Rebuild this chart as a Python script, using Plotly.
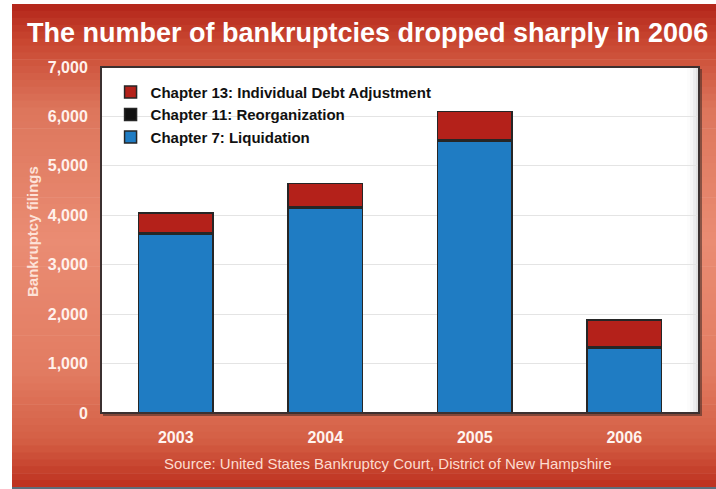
import plotly.graph_objects as go

# Bankruptcy filings, District of New Hampshire
years = ["2003", "2004", "2005", "2006"]
chapter7 = [3620, 4150, 5500, 1310]
chapter11 = [30, 30, 35, 30]
chapter13 = [400, 460, 560, 540]

W, H = 716, 489
ML, MR, MT, MB = 101, 17, 67, 76
PW, PH = W - ML - MR, H - MT - MB


def px_x(px):
    return (px - ML) / PW


def px_y(py):
    return (H - MB - py) / PH


def hex_to_rgb(h):
    h = h.lstrip("#")
    return tuple(int(h[i:i + 2], 16) for i in (0, 2, 4))


# vertical colour stops for the red backdrop (pixel y, colour)
stops = [(4, "#b3251a"), (40, "#c84630"), (110, "#dd765c"), (240, "#ea8c73"),
         (370, "#e27c62"), (440, "#d45f45"), (487, "#bd301e")]


def colour_at(py):
    for (y0, c0), (y1, c1) in zip(stops, stops[1:]):
        if y0 <= py <= y1:
            t = (py - y0) / (y1 - y0)
            a, b = hex_to_rgb(c0), hex_to_rgb(c1)
            r = [round(a[i] + (b[i] - a[i]) * t) for i in range(3)]
            return "rgb(%d,%d,%d)" % tuple(r)
    return stops[-1][1]


shapes = []
top, bottom, n = 4, 487, 70
step = (bottom - top) / n
for i in range(n):
    y0 = top + i * step
    y1 = y0 + step + 0.6
    shapes.append(dict(type="rect", xref="paper", yref="paper", layer="below",
                       x0=px_x(12), x1=px_x(717), y0=px_y(min(y1, bottom)), y1=px_y(y0),
                       fillcolor=colour_at(y0 + step / 2), line=dict(width=0)))
# slate strip along the bottom edge
shapes.append(dict(type="rect", xref="paper", yref="paper", layer="below",
                   x0=px_x(12), x1=px_x(717), y0=px_y(490), y1=px_y(487),
                   fillcolor="#5d6d7b", line=dict(width=0)))
# drop shadow and white panel behind the plot area
shapes.append(dict(type="rect", xref="paper", yref="paper", layer="below",
                   x0=px_x(103), x1=px_x(702), y0=px_y(416), y1=px_y(69),
                   fillcolor="rgba(60,40,35,0.55)", line=dict(width=0)))
shapes.append(dict(type="rect", xref="paper", yref="paper", layer="below",
                   x0=0, x1=1, y0=0, y1=1, fillcolor="white", line=dict(width=0)))
# soft grey shading inside the right edge of the panel
for k, a in enumerate([0.10, 0.07, 0.045, 0.025]):
    shapes.append(dict(type="rect", xref="paper", yref="paper", layer="below",
                       x0=px_x(PW + ML - 3 * (k + 1)), x1=1, y0=0, y1=1,
                       fillcolor="rgba(120,120,130,%.3f)" % a, line=dict(width=0)))
# frame around the plot area
shapes.append(dict(type="rect", xref="paper", yref="paper", layer="above",
                   x0=0, x1=1, y0=0, y1=1, line=dict(color="#3b3030", width=2)))

bar_line = dict(color="#262626", width=1.5)
fig = go.Figure()
fig.add_trace(go.Bar(x=years, y=chapter7, name="Chapter 7: Liquidation",
                     marker=dict(color="#1f7cc3", line=bar_line),
                     legendgroup="c7", legendrank=3))
fig.add_trace(go.Bar(x=years, y=chapter11, name="Chapter 11: Reorganization",
                     marker=dict(color="#111111", line=bar_line),
                     legendgroup="c11", legendrank=2))
fig.add_trace(go.Bar(x=years, y=chapter13, name="Chapter 13: Individual Debt Adjustment",
                     marker=dict(color="#b4211a", line=bar_line),
                     legendgroup="c13", legendrank=1))

tick_font = dict(family="Liberation Sans, Arial, sans-serif", size=16, color="#fff1ec")

fig.update_layout(
    width=W, height=H,
    margin=dict(l=ML, r=MR, t=MT, b=MB),
    paper_bgcolor="white",
    plot_bgcolor="rgba(0,0,0,0)",
    barmode="stack",
    bargap=0.5,
    shapes=shapes,
    font=dict(family="Liberation Sans, Arial, sans-serif"),
    legend=dict(x=0.016, y=0.975, xanchor="left", yanchor="top",
                traceorder="grouped", tracegroupgap=0,
                itemwidth=30, bgcolor="rgba(0,0,0,0)",
                font=dict(family="Liberation Sans, Arial, sans-serif", size=15,
                          color="#111111", weight="bold")),
    xaxis=dict(showgrid=False, ticks="outside", ticklen=10, tickcolor="rgba(0,0,0,0)",
               tickfont=dict(tick_font, size=16, weight="bold", color="#fff4ef"),
               showline=False, zeroline=False),
    yaxis=dict(range=[0, 7000], dtick=1000, tickformat=",d",
               showgrid=True, gridcolor="#e4e4e4", gridwidth=1,
               ticks="outside", ticklen=9, tickcolor="rgba(0,0,0,0)",
               tickfont=dict(tick_font, weight="bold"),
               showline=False, zeroline=False),
    annotations=[
        dict(text="The number of bankruptcies dropped sharply in 2006",
             xref="paper", yref="paper", x=px_x(367), y=px_y(33),
             xanchor="center", yanchor="middle", showarrow=False,
             font=dict(family="Liberation Sans, Arial, sans-serif", size=27,
                       color="white", weight="bold")),
        dict(text="Bankruptcy filings", textangle=-90,
             xref="paper", yref="paper", x=px_x(32), y=px_y(232),
             xanchor="center", yanchor="middle", showarrow=False,
             font=dict(family="Liberation Sans, Arial, sans-serif", size=15,
                       color="#fde2d8", weight="bold")),
        dict(text="Source: United States Bankruptcy Court, District of New Hampshire",
             xref="paper", yref="paper", x=px_x(388), y=px_y(463),
             xanchor="center", yanchor="middle", showarrow=False,
             font=dict(family="Liberation Sans, Arial, sans-serif", size=15,
                       color="#fcdcd0")),
    ],
)

fig.write_html("out.html")
